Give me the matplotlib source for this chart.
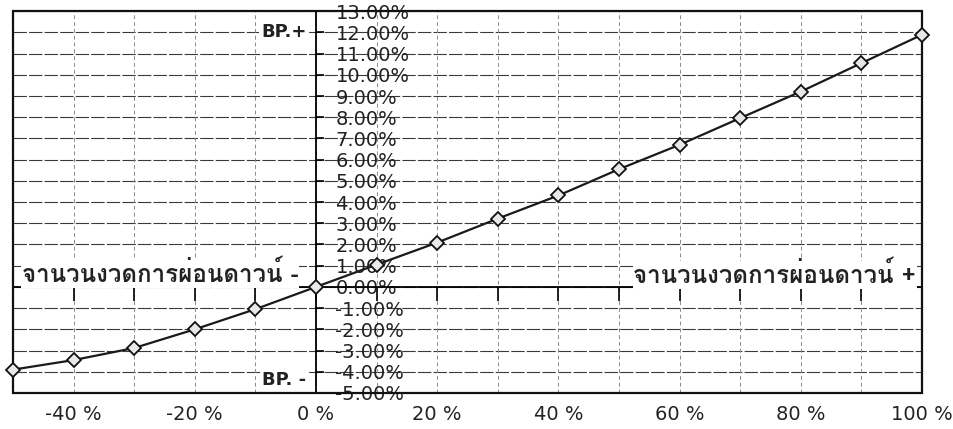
import matplotlib
matplotlib.use("Agg")
import matplotlib.pyplot as plt
from matplotlib import font_manager
from matplotlib.patches import Rectangle
from matplotlib.ticker import FixedLocator, FixedFormatter

# ---- data ----
x_vals = [-50, -40, -30, -20, -10, 0, 10, 20, 30, 40, 50, 60, 70, 80, 90, 100]
y_vals = [-3.9, -3.45, -2.88, -2.0, -1.05, 0.0, 1.05, 2.09, 3.22, 4.31, 5.55, 6.7, 7.96, 9.21, 10.55, 11.89]
x_ticks = [-50, -40, -30, -20, -10, 0, 10, 20, 30, 40, 50, 60, 70, 80, 90, 100]
x_tick_labels = ["", "-40 %", "", "-20 %", "", "0 %", "", "20 %", "", "40 %", "", "60 %", "", "80 %", "", "100 %"]
y_ticks = list(range(-5, 14))
y_tick_labels = ["%.2f%%" % v for v in y_ticks]
label_left = "จานวนงวดการผ่อนดาวน์ -"
label_right = "จานวนงวดการผ่อนดาวน์ +"
label_bp_plus = "BP.+"
label_bp_minus = "BP. -"

# ---- find a font with Thai glyphs ----
thai_family = None
try:
    from fontTools.ttLib import TTFont
    for fe in font_manager.fontManager.ttflist:
        try:
            f = TTFont(fe.fname, fontNumber=0, lazy=True)
            cmap = f.getBestCmap()
            if cmap and 0x0E08 in cmap and 0x0E19 in cmap:
                thai_family = fe.name
                break
        except Exception:
            continue
except Exception:
    pass
thai_fams = ([thai_family] if thai_family else []) + ["DejaVu Sans"]

plt.rcParams['font.family'] = ['DejaVu Sans']

fig = plt.figure(figsize=(9.54, 4.29), dpi=100)
ax = fig.add_axes([0.0136, 0.084, 0.9529, 0.890])
ax.set_xlim(-50, 100)
ax.set_ylim(-5, 13)

# grid
for yv in y_ticks:
    ax.axhline(yv, color='#3a3a3a', lw=0.8, dashes=(12, 2), zorder=1)
for xv in x_ticks:
    ax.axvline(xv, color='#8a8a8a', lw=0.7, dashes=(4, 3), zorder=1)

# spines: right spine becomes the vertical axis at x=0, top spine the horizontal axis at y=0
for s in ['left', 'bottom']:
    ax.spines[s].set_visible(False)
ax.spines['right'].set_position(('data', 0))
ax.spines['top'].set_position(('data', 0))
ax.spines['right'].set_linewidth(1.3)
ax.spines['top'].set_linewidth(1.3)
ax.add_patch(Rectangle((0, 0), 1, 1, transform=ax.transAxes, fill=False,
                       lw=1.6, ec='#111111', zorder=5, clip_on=False))

ax.yaxis.set_ticks_position('right')
ax.yaxis.set_major_locator(FixedLocator(y_ticks))
ax.yaxis.set_major_formatter(FixedFormatter(y_tick_labels))
ax.tick_params(axis='y', direction='out', length=6, width=1.2, pad=8,
               labelsize=14, labelcolor='#222222', right=True, left=False,
               labelright=True, labelleft=False)

ax.xaxis.set_major_locator(FixedLocator(x_ticks))
ax.xaxis.set_major_formatter(FixedFormatter(x_tick_labels))
ax.tick_params(axis='x', which='both', top=True, bottom=False, direction='in',
               length=10, width=1.2, labeltop=False, labelbottom=True,
               labelsize=14, labelcolor='#222222', pad=9)

# data line
ax.plot(x_vals, y_vals, color='#1a1a1a', lw=1.6, marker='D', markersize=7,
        markerfacecolor='#e8e8e8', markeredgecolor='#111111', markeredgewidth=1.3,
        zorder=6, clip_on=False)

# annotations
ax.text(-1.6, 12.0, label_bp_plus, ha='right', va='center', fontsize=13,
        fontweight='bold', color='#222222', zorder=7,
        bbox=dict(facecolor='white', edgecolor='none', pad=1))
ax.text(-1.6, -4.4, label_bp_minus, ha='right', va='center', fontsize=13,
        fontweight='bold', color='#222222', zorder=7,
        bbox=dict(facecolor='white', edgecolor='none', pad=1))
ax.text(-48.5, 0.6, label_left, ha='left', va='center', fontsize=17.4,
        family=thai_fams, fontweight='bold', color='#222222', zorder=7,
        bbox=dict(facecolor='white', edgecolor='none', pad=0.5))
ax.text(99, 0.55, label_right, ha='right', va='center', fontsize=17.4,
        family=thai_fams, fontweight='bold', color='#222222', zorder=7,
        bbox=dict(facecolor='white', edgecolor='none', pad=0.5))

fig.savefig("out.png", dpi=100, facecolor='white')
